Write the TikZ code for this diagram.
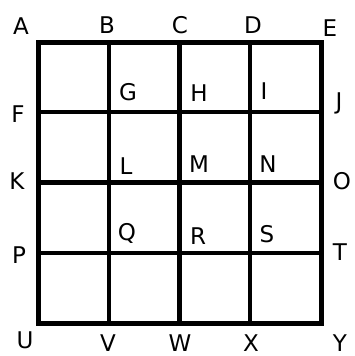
\documentclass[tikz,border=0pt]{standalone}
\usepackage{fontspec}
\setmainfont{DejaVu Sans}
\usetikzlibrary{positioning}
\tikzset{
  gridline/.style = {line width=4.2pt, draw=black},
  frame/.style    = {line width=5pt, draw=black},
  ptlabel/.style  = {inner sep=0pt, anchor=center, text=black,
                     font=\fontsize{23}{23}\selectfont},
}

\begin{document}
\begin{tikzpicture}[x=1pt,y=-1pt]
  \useasboundingbox (0,0) rectangle (354,356);

  % inner lines of the 4x4 grid
  \foreach \i in {1,2,3} {
    \draw[gridline] ({38+70.75*\i},42) -- ({38+70.75*\i},323);
    \draw[gridline] (38,{42+70.25*\i}) -- (321,{42+70.25*\i});
  }
  \draw[frame] (38,42) rectangle (321,323);

  % point labels, row by row
  \foreach \name/\x/\y in {A/21/26, B/107/25, C/180/25, D/253/25, E/330/28,
                           F/18/114, G/128/92, H/199/93, I/264/91, J/339/103,
                           K/17/181, L/126/166, M/199/164, N/268/164, O/342/181,
                           P/19/255, Q/127/233, R/198/236, S/267/234, T/340/252,
                           U/25/340, V/108/343, W/180/343, X/251/343, Y/340/343}
    \node[ptlabel] (\name) at (\x,\y) {\name};
\end{tikzpicture}
\end{document}
